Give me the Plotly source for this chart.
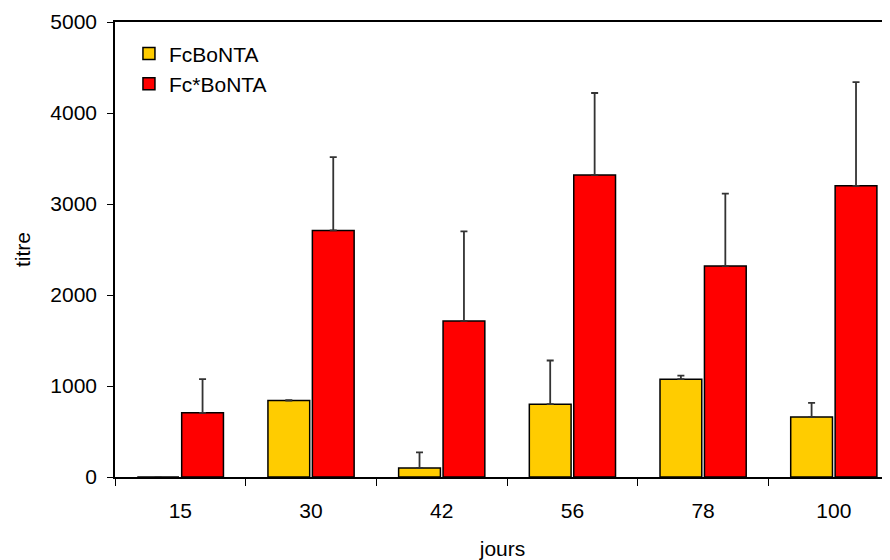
import plotly.graph_objects as go

categories = ["15", "30", "42", "56", "78", "100"]
fc_values = [0, 840, 100, 800, 1075, 660]
fc_errors = [0, 5, 170, 480, 40, 155]
fcs_values = [705, 2710, 1715, 3320, 2320, 3200]
fcs_errors = [370, 805, 985, 900, 795, 1140]

font = "Liberation Sans, Arial, sans-serif"

fig = go.Figure()
fig.add_trace(go.Bar(
    name="FcBoNTA", x=categories, y=fc_values,
    marker=dict(color="#FFCC00", line=dict(color="black", width=1.5)),
    error_y=dict(type="data", array=fc_errors, symmetric=False, arrayminus=[0]*6,
                 color="#333333", thickness=1.8, width=3.5),
))
fig.add_trace(go.Bar(
    name="Fc*BoNTA", x=categories, y=fcs_values,
    marker=dict(color="#FF0000", line=dict(color="black", width=1.5)),
    error_y=dict(type="data", array=fcs_errors, symmetric=False, arrayminus=[0]*6,
                 color="#333333", thickness=1.8, width=3.5),
))

fig.update_layout(
    width=890, height=560,
    margin=dict(l=107, r=8, t=14, b=91),
    paper_bgcolor="white", plot_bgcolor="white",
    barmode="group", bargap=0.32, bargroupgap=0.06,
    font=dict(family=font, size=21, color="black"),
    showlegend=True,
    legend=dict(x=0.018, y=0.975, xanchor="left", yanchor="top",
                bgcolor="rgba(0,0,0,0)", font=dict(size=21),
                itemwidth=30, tracegroupgap=6),
    xaxis=dict(
        type="category", range=[-0.5, 5.43], automargin=False,
        showline=True, linecolor="black", linewidth=1.5, mirror=True,
        ticks="outside", tickson="boundaries", ticklen=7, tickcolor="black", tickwidth=1,
        showgrid=False,
        title=dict(text="jours", font=dict(size=21), standoff=20),
        tickfont=dict(size=21),
        ticklabelstandoff=14,
    ),
    yaxis=dict(
        range=[0, 5000], tickvals=[0, 1000, 2000, 3000, 4000, 5000], automargin=False,
        showline=True, linecolor="black", linewidth=1.5,
        ticks="outside", ticklen=6, tickcolor="black", tickwidth=1,
        showgrid=False, zeroline=False,
        title=dict(text="titre", font=dict(size=21), standoff=14),
        tickfont=dict(size=21),
        ticklabelstandoff=6,
    ),
)

fig.write_html("out.html")
